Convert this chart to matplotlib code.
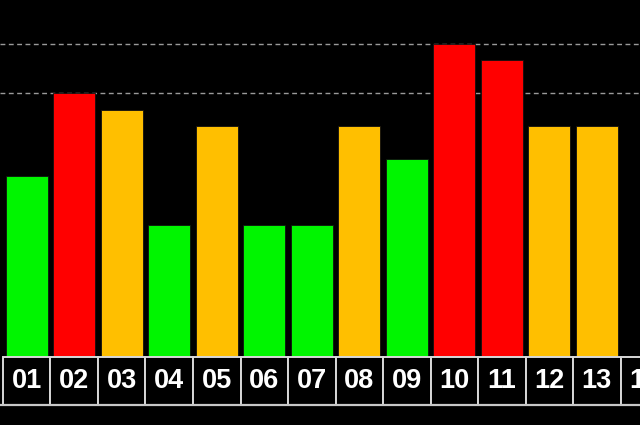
import numpy as np
import matplotlib
matplotlib.use('Agg')
import matplotlib.pyplot as plt
from matplotlib.patches import Rectangle

# data
labels = ['01', '02', '03', '04', '05', '06', '07', '08', '09', '10', '11', '12', '13', '14']
values = [11, 16, 15, 8, 14, 8, 8, 14, 12, 19, 18, 14, 14]
gridlevels = [16, 19]


def bar_color(v):
    # green / amber / red bands
    if v >= 16:
        return '#ff0000'
    if v >= 13:
        return '#ffbf00'
    return '#00f500'


fig = plt.figure(figsize=(6.4, 4.25), dpi=100, facecolor='black')
ax = fig.add_axes([0, 0, 1, 1])
ax.set_facecolor('black')

x = np.arange(len(values))
ax.bar(x, values, width=0.88, color=[bar_color(v) for v in values],
       edgecolor='#101010', linewidth=0.6, zorder=2)

for g in gridlevels:
    ax.axhline(g, color='#9a9a9a', linestyle=(0, (3.5, 2.5)), linewidth=1.0, zorder=1)

# label cells under the bars
box_h = 2.9
for i, lab in enumerate(labels):
    ax.add_patch(Rectangle((i - 0.5, -box_h), 1.0, box_h, facecolor='black',
                           edgecolor='#d8d8d8', linewidth=1.4, zorder=3))
    ax.text(i, -box_h / 2, lab, color='white', fontsize=19.5, fontweight='bold',
            family=['Liberation Sans', 'DejaVu Sans'], ha='center', va='center', zorder=4)
ax.axhline(-box_h, color='#c8c8c8', linewidth=1.6, zorder=3)

ax.set_xlim(-0.563, 12.91)
ax.set_ylim(-4.12, 21.64)
ax.axis('off')

fig.savefig('out.png', dpi=100, facecolor='black')
